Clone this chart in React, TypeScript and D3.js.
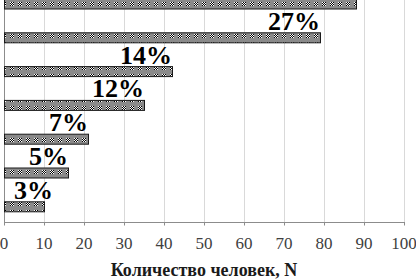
import React from 'react';
import * as d3 from 'd3';

const categories = ['g1', 'g2', 'g3', 'g4', 'g5', 'g6', 'g7'];
const values = [88, 79, 42, 35, 21, 16, 10];
const shares = ['30%', '27%', '14%', '12%', '7%', '5%', '3%'];
const xTicks = [0, 10, 20, 30, 40, 50, 60, 70, 80, 90, 100];
const axisTitle = 'Количество человек, N';

const serif = 'Liberation Serif, Times New Roman, serif';
const axisY = 222.5;
const barH = 10;

const x = d3.scaleLinear().domain([0, 100]).range([4, 404]);
const y = d3.scaleBand<string>().domain(categories).range([-12.9, 223.7]).padding(0);
const barTop = (i: number) => (y(categories[i]) as number) + y.bandwidth() / 2 - barH / 2;

const App: React.FC = () => {
  const checks: { x: number; y: number; c: string }[] = [];
  for (let i = 0; i < 4; i++) {
    for (let j = 0; j < 4; j++) {
      checks.push({ x: 2 + i, y: 2 + j, c: (i + j) % 2 === 0 ? '#ffffff' : '#000000' });
    }
  }

  return (
    <svg
      width={416}
      height={280}
      style={{ position: 'absolute', left: 0, top: 0, background: '#fff', display: 'block' }}
    >
      <defs>
        <pattern id="chk" patternUnits="userSpaceOnUse" width={8} height={8}>
          <rect width={8} height={8} fill="#8a8a8a" />
          {checks.map((c, k) => (
            <rect key={k} x={c.x} y={c.y} width={1} height={1} fill={c.c} />
          ))}
        </pattern>
      </defs>

      {/* grid */}
      {xTicks.slice(1).map(t => (
        <line key={t} x1={x(t) + 0.5} x2={x(t) + 0.5} y1={0} y2={axisY} stroke="#d9d9d9" />
      ))}

      {/* axes */}
      <line x1={x(0) + 0.5} x2={x(0) + 0.5} y1={0} y2={axisY} stroke="#8c8c8c" />
      <line x1={x(0)} x2={x(100) + 1} y1={axisY} y2={axisY} stroke="#8c8c8c" />
      {xTicks.map(t => (
        <line key={t} x1={x(t) + 0.5} x2={x(t) + 0.5} y1={axisY} y2={axisY + 3} stroke="#8c8c8c" />
      ))}

      {/* bars */}
      {values.map((v, i) => (
        <rect
          key={categories[i]}
          x={x(0) + 0.5}
          y={barTop(i)}
          width={x(v) - x(0)}
          height={barH}
          fill="url(#chk)"
          stroke="#1a1a1a"
        />
      ))}

      {/* share labels; the top one falls above the visible area */}
      {values.map((v, i) =>
        barTop(i) - 3 > 20 ? (
          <text
            key={categories[i]}
            x={Math.max(x(v), x(0) + 49)}
            y={barTop(i) - 3}
            textAnchor="end"
            fontFamily={serif}
            fontWeight="bold"
            fontSize={26}
            fill="#000"
          >
            {shares[i]}
          </text>
        ) : null
      )}

      {/* tick labels */}
      {xTicks.map(t => (
        <text key={t} x={x(t)} y={249} textAnchor="middle" fontFamily={serif} fontSize={17} fill="#404040">
          {t}
        </text>
      ))}

      <text x={204} y={276} textAnchor="middle" fontFamily={serif} fontWeight="bold" fontSize={18} fill="#1a1a1a">
        {axisTitle}
      </text>
    </svg>
  );
};

export default App;
